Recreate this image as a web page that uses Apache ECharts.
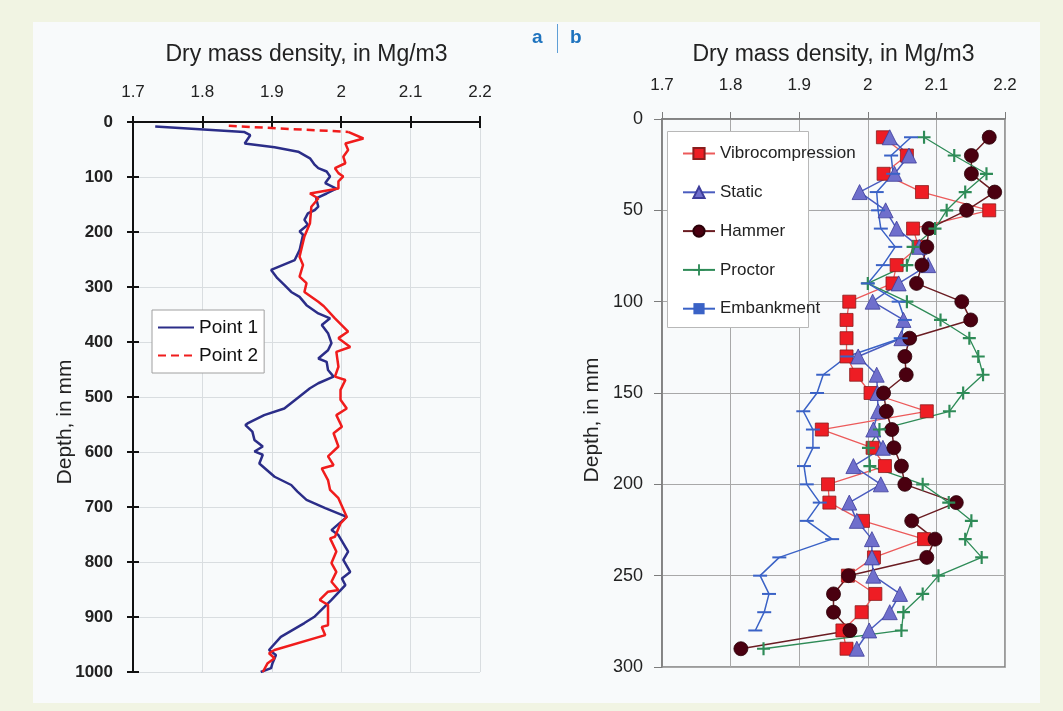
<!DOCTYPE html>
<html>
<head>
<meta charset="utf-8">
<script src="https://cdn.jsdelivr.net/npm/echarts@6/dist/echarts.min.js"></script>
<style>
  html, body { margin: 0; padding: 0; background: #f1f4e3; }
  #chart { width: 1063px; height: 711px; }
</style>
</head>
<body>
<div id="chart"></div>
<script>
// ---- Panel a: density profiles along depth (mm) ----
const point1Depth = [8, 18, 24, 39, 46, 54, 66, 78, 84, 90, 99, 111, 121, 130, 139, 154, 160, 166, 178, 187, 199, 205, 233, 251, 269, 284, 296, 309, 318, 333, 348, 357, 369, 384, 402, 415, 430, 436, 451, 463, 475, 484, 499, 521, 533, 548, 551, 563, 578, 590, 599, 605, 621, 645, 660, 672, 687, 702, 718, 742, 751, 781, 796, 818, 830, 842, 869, 899, 911, 936, 960, 969, 984, 993, 1000];
const point1Density = [1.732, 1.860, 1.869, 1.861, 1.904, 1.938, 1.955, 1.962, 1.967, 1.979, 1.984, 1.977, 1.993, 1.979, 1.964, 1.967, 1.962, 1.952, 1.947, 1.952, 1.940, 1.945, 1.940, 1.933, 1.899, 1.908, 1.918, 1.928, 1.940, 1.950, 1.967, 1.984, 1.972, 1.981, 1.986, 1.981, 1.967, 1.979, 1.981, 1.989, 1.967, 1.955, 1.940, 1.918, 1.889, 1.865, 1.862, 1.872, 1.875, 1.887, 1.875, 1.887, 1.882, 1.904, 1.928, 1.937, 1.950, 1.977, 2.008, 1.986, 1.996, 2.010, 2.003, 2.013, 2.001, 2.006, 1.986, 1.962, 1.947, 1.913, 1.896, 1.906, 1.901, 1.899, 1.884];

const point2Depth = [7, 18, 30, 39, 51, 63, 75, 84, 93, 99, 108, 121, 130, 139, 154, 184, 208, 245, 260, 281, 293, 309, 327, 335, 357, 381, 393, 409, 418, 445, 463, 469, 487, 505, 521, 533, 554, 566, 590, 608, 624, 630, 651, 669, 684, 718, 730, 754, 757, 781, 802, 818, 836, 851, 854, 869, 878, 915, 918, 933, 960, 966, 975, 984, 1000];
const point2Density = [1.838, 2.010, 2.032, 2.006, 2.010, 2.003, 2.006, 1.991, 1.996, 2.003, 1.996, 1.996, 1.955, 1.967, 1.957, 1.955, 1.947, 1.940, 1.945, 1.940, 1.950, 1.947, 1.967, 1.975, 1.991, 2.010, 1.996, 2.013, 1.993, 1.996, 1.991, 2.006, 1.999, 1.999, 2.008, 1.993, 2.001, 1.989, 1.996, 1.981, 1.989, 1.972, 1.981, 1.984, 1.996, 2.008, 1.999, 1.991, 1.984, 1.993, 1.986, 1.993, 1.986, 1.996, 1.981, 1.969, 1.981, 1.981, 1.972, 1.977, 1.904, 1.896, 1.904, 1.894, 1.887];

// ---- Panel b: compaction methods, one reading every 10 mm ----
const depthB = [10, 20, 30, 40, 50, 60, 70, 80, 90, 100, 110, 120, 130, 140, 150, 160, 170, 180, 190, 200, 210, 220, 230, 240, 250, 260, 270, 280, 290];
const vibrocompression = [2.022, 2.057, 2.023, 2.079, 2.177, 2.066, 2.074, 2.042, 2.036, 1.973, 1.969, 1.969, 1.969, 1.983, 2.004, 2.086, 1.933, 2.007, 2.025, 1.942, 1.944, 1.993, 2.082, 2.009, 1.971, 2.011, 1.991, 1.963, 1.969];
const staticLoad = [2.032, 2.060, 2.039, 1.988, 2.026, 2.042, 2.075, 2.088, 2.045, 2.007, 2.052, 2.049, 1.986, 2.013, 2.014, 2.015, 2.008, 2.022, 1.979, 2.019, 1.973, 1.984, 2.006, 2.006, 2.008, 2.047, 2.032, 2.002, 1.984];
const hammer = [2.177, 2.151, 2.151, 2.185, 2.144, 2.089, 2.086, 2.079, 2.071, 2.137, 2.150, 2.061, 2.054, 2.056, 2.023, 2.027, 2.035, 2.038, 2.049, 2.054, 2.129, 2.064, 2.098, 2.086, 1.972, 1.950, 1.950, 1.974, 1.815];
const proctor = [2.082, 2.126, 2.173, 2.142, 2.115, 2.098, 2.066, 2.057, 2.000, 2.057, 2.106, 2.148, 2.161, 2.168, 2.139, 2.119, 2.017, 2.001, 2.003, 2.080, 2.118, 2.151, 2.142, 2.166, 2.103, 2.080, 2.052, 2.049, 1.848];
const embankment = [2.063, 2.034, 2.037, 2.013, 2.015, 2.019, 2.040, 2.022, 2.000, 2.045, 2.054, 2.048, 1.970, 1.935, 1.926, 1.906, 1.920, 1.920, 1.907, 1.911, 1.930, 1.911, 1.948, 1.871, 1.843, 1.856, 1.849, 1.836];

const densityTicks = { min: 1.7, max: 2.2, interval: 0.1 };
const depthTicksA = { min: 0, max: 1000, interval: 100 };
const depthTicksB = { min: 0, max: 300, interval: 50 };

const pairs = (xs, ys) => xs.map((v, i) => [v, ys[i]]);
const plain = v => String(v);

const SANS = "'Liberation Sans', Arial, sans-serif";

const chart = echarts.init(document.getElementById('chart'), null, { renderer: 'canvas' });

// filled plus sign used for the Proctor readings
const plusPath = 'path://M5,0h2v5h5v2h-5v5h-2v-5h-5v-2h5z';

// panel a frame, shared by its main grid and the overlay grid that carries the inward tick halves
const frameA = { left: 133, top: 122, width: 347, height: 550 };

const option = {
  animation: false,
  backgroundColor: '#f1f4e3',
  graphic: [
    { type: 'rect', z: -10, shape: { x: 33, y: 22, width: 1007, height: 681 }, style: { fill: '#f8fafb' } },
    { type: 'text', z: 10, x: 532, y: 28, style: { text: 'a', fill: '#1e73be', font: "bold 19px 'Liberation Sans', Arial" } },
    { type: 'text', z: 10, x: 570, y: 28, style: { text: 'b', fill: '#1e73be', font: "bold 19px 'Liberation Sans', Arial" } },
    { type: 'line', z: 10, shape: { x1: 557.5, y1: 24, x2: 557.5, y2: 53 }, style: { stroke: '#5f9fd6', lineWidth: 1 } },
    { type: 'rect', z: 3, shape: { x: 667.5, y: 131.5, width: 141, height: 196 }, style: { fill: '#ffffff', stroke: '#b8b8b8', lineWidth: 1 } },
    { type: 'text', z: 10, x: 65, y: 422, rotation: Math.PI / 2,
      style: { text: 'Depth, in mm', fill: '#222', font: "21px 'Liberation Sans', Arial", align: 'center', verticalAlign: 'middle' } },
    { type: 'text', z: 10, x: 592, y: 420, rotation: Math.PI / 2,
      style: { text: 'Depth, in mm', fill: '#222', font: "21px 'Liberation Sans', Arial", align: 'center', verticalAlign: 'middle' } }
  ],
  grid: [
    { ...frameA, show: false },
    { left: 662, top: 119, width: 343, height: 548, show: true, borderColor: '#7c7c7c', borderWidth: 1.5, backgroundColor: 'transparent' },
    { ...frameA, show: false }
  ],
  xAxis: [
    {
      gridIndex: 0, type: 'value', position: 'top', ...densityTicks,
      name: 'Dry mass density, in Mg/m3', nameLocation: 'middle', nameGap: 56,
      nameTextStyle: { fontFamily: SANS, fontSize: 23, color: '#222' },
      axisLine: { show: true, lineStyle: { color: '#111', width: 2 } },
      axisTick: { show: true, length: 6, lineStyle: { color: '#111', width: 2 } },
      axisLabel: { margin: 21, fontFamily: SANS, fontSize: 17, color: '#222', formatter: plain },
      splitLine: { show: true, lineStyle: { color: '#d9dde0', width: 1 } }
    },
    {
      gridIndex: 1, type: 'value', position: 'top', ...densityTicks,
      name: 'Dry mass density, in Mg/m3', nameLocation: 'middle', nameGap: 53,
      nameTextStyle: { fontFamily: SANS, fontSize: 23, color: '#222' },
      axisLine: { show: true, lineStyle: { color: '#7c7c7c', width: 1.5 } },
      axisTick: { show: true, length: 7, lineStyle: { color: '#7c7c7c', width: 1 } },
      axisLabel: { margin: 25, fontFamily: SANS, fontSize: 17, color: '#222', formatter: plain },
      splitLine: { show: true, lineStyle: { color: '#a8a8a8', width: 1 } }
    },
    {
      gridIndex: 2, type: 'value', position: 'top', ...densityTicks,
      axisLine: { show: false },
      axisTick: { show: true, inside: true, length: 6, lineStyle: { color: '#111', width: 2 } },
      axisLabel: { show: false }, splitLine: { show: false }
    }
  ],
  yAxis: [
    {
      gridIndex: 0, type: 'value', position: 'left', inverse: true, ...depthTicksA,
      axisLine: { show: true, lineStyle: { color: '#111', width: 2 } },
      axisTick: { show: true, length: 6, lineStyle: { color: '#111', width: 2 } },
      axisLabel: { margin: 20, fontFamily: SANS, fontWeight: 'bold', fontSize: 17, color: '#222', formatter: plain },
      splitLine: { show: true, lineStyle: { color: '#d9dde0', width: 1 } }
    },
    {
      gridIndex: 1, type: 'value', position: 'left', inverse: true, ...depthTicksB,
      axisLine: { show: true, lineStyle: { color: '#7c7c7c', width: 1.5 } },
      axisTick: { show: true, length: 8, lineStyle: { color: '#7c7c7c', width: 1 } },
      axisLabel: { margin: 19, fontFamily: SANS, fontSize: 18, color: '#222', formatter: plain },
      splitLine: { show: true, lineStyle: { color: '#a8a8a8', width: 1 } }
    },
    {
      gridIndex: 2, type: 'value', position: 'left', inverse: true, ...depthTicksA,
      axisLine: { show: false },
      axisTick: { show: true, inside: true, length: 6, lineStyle: { color: '#111', width: 2 } },
      axisLabel: { show: false }, splitLine: { show: false }
    }
  ],
  legend: [
    {
      left: 152, top: 310, orient: 'vertical',
      backgroundColor: '#ffffff', borderColor: '#a0a0a0', borderWidth: 1,
      padding: [8, 6, 8, 5], itemWidth: 36, itemHeight: 14, itemGap: 9,
      textStyle: { fontFamily: SANS, fontSize: 19, color: '#111' },
      itemStyle: { opacity: 0 },
      data: ['Point 1', { name: 'Point 2', lineStyle: { type: [8, 5] } }]
    },
    {
      left: 669, top: 139, orient: 'vertical', z: 6,
      padding: [6, 4, 4, 13], itemWidth: 32, itemHeight: 14, itemGap: 21.8,
      textStyle: { fontFamily: SANS, fontSize: 17, lineHeight: 16, color: '#222' },
      data: ['Vibrocompression', 'Static', 'Hammer', 'Proctor', 'Embankment']
    }
  ],
  series: [
    {
      name: 'Point 2', type: 'line', xAxisIndex: 0, yAxisIndex: 0, showSymbol: false, symbol: 'none',
      data: pairs(point2Density.slice(0, 2), point2Depth.slice(0, 2)),
      lineStyle: { color: '#f01c1c', width: 2.5, type: [8, 5] }, itemStyle: { color: '#f01c1c' }
    },
    {
      name: 'Point 1', type: 'line', xAxisIndex: 0, yAxisIndex: 0, showSymbol: false, symbol: 'none',
      data: pairs(point1Density, point1Depth),
      lineStyle: { color: '#2b2d88', width: 2.5 }, itemStyle: { color: '#2b2d88' }
    },
    {
      name: 'Point 2', type: 'line', xAxisIndex: 0, yAxisIndex: 0, showSymbol: false, symbol: 'none',
      data: pairs(point2Density.slice(1), point2Depth.slice(1)),
      lineStyle: { color: '#f01c1c', width: 2.5 }, itemStyle: { color: '#f01c1c' }
    },
    {
      name: 'Vibrocompression', type: 'line', xAxisIndex: 1, yAxisIndex: 1,
      data: pairs(vibrocompression, depthB),
      symbol: 'rect', symbolSize: 13,
      lineStyle: { color: '#ec5a5a', width: 1.3 },
      itemStyle: { color: '#ee1d24', borderColor: '#8a1d1d', borderWidth: 0.8 }
    },
    {
      name: 'Static', type: 'line', xAxisIndex: 1, yAxisIndex: 1,
      data: pairs(staticLoad, depthB),
      symbol: 'triangle', symbolSize: 15,
      lineStyle: { color: '#4a5cbf', width: 1.5 },
      itemStyle: { color: '#6f6fcc', borderColor: '#3d3d9a', borderWidth: 0.8 }
    },
    {
      name: 'Hammer', type: 'line', xAxisIndex: 1, yAxisIndex: 1,
      data: pairs(hammer, depthB),
      symbol: 'circle', symbolSize: 14,
      lineStyle: { color: '#6a1c22', width: 1.5 },
      itemStyle: { color: '#4a0010', borderColor: '#2a0008', borderWidth: 0.8 }
    },
    {
      name: 'Proctor', type: 'line', xAxisIndex: 1, yAxisIndex: 1,
      data: pairs(proctor, depthB),
      symbol: plusPath, symbolSize: 13,
      lineStyle: { color: '#2e8b57', width: 1.3 },
      itemStyle: { color: '#2e8b57' }
    },
    {
      name: 'Embankment', type: 'line', xAxisIndex: 1, yAxisIndex: 1,
      data: pairs(embankment, depthB.slice(0, embankment.length)),
      symbol: 'rect', symbolSize: [14, 2],
      lineStyle: { color: '#3a62c6', width: 1.5 },
      itemStyle: { color: '#3a62c6' }
    }
  ]
};

chart.setOption(option);
</script>
</body>
</html>
